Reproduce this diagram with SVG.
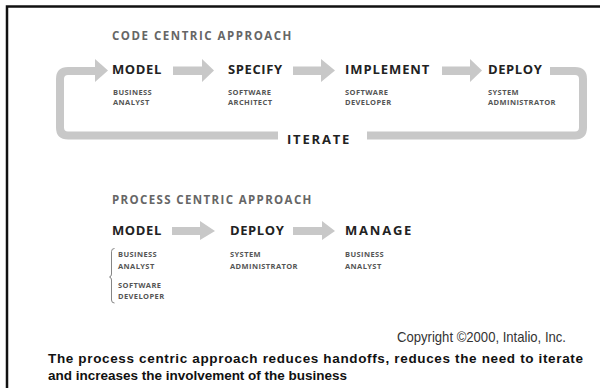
<svg xmlns="http://www.w3.org/2000/svg" width="600" height="388" viewBox="0 0 600 388">
<defs>
<style>
.frame{fill:none;stroke:#111;stroke-width:2.5}
.arrow{fill:#c8c8c8}
.loop{fill:none;stroke:#c8c8c8;stroke-width:8}
.sec{font-family:"Open Sans","DejaVu Sans",sans-serif;font-weight:bold;font-size:11.5px;fill:#666;letter-spacing:0.6px}
.step{font-family:"Open Sans","DejaVu Sans",sans-serif;font-weight:bold;font-size:13px;fill:#222;letter-spacing:0.6px}
.role{font-family:"Open Sans","DejaVu Sans",sans-serif;font-weight:bold;font-size:7.5px;fill:#555;letter-spacing:0.4px}
.copy{font-family:"Liberation Sans",Arial,sans-serif;font-size:15px;fill:#333}
.cap{font-family:"Liberation Sans",Arial,sans-serif;font-weight:bold;font-size:13.5px;fill:#111}
.brace{fill:none;stroke:#777;stroke-width:0.9}
</style>
</defs>
<rect width="600" height="388" fill="#fff"/>
<path class="frame" d="M7 388 V6.5 H600"/>

<text class="sec" x="112" y="40" textLength="180">CODE CENTRIC APPROACH</text>

<g id="connectors">
  <path class="loop" d="M550 71 H575 Q583 71 583 79 V127.5 Q583 135.5 575 135.5 H367"/>
  <path class="loop" d="M278 135.5 H68 Q60 135.5 60 127.5 V79 Q60 71 68 71 H96"/>
  <polygon class="arrow" points="95,59 108,70.5 95,82"/>
  <polygon class="arrow" points="173,66.5 202,66.5 202,59 214,70.5 202,82 202,75 173,75"/>
  <polygon class="arrow" points="293,66.5 321,66.5 321,59 335,70.5 321,82 321,75 293,75"/>
  <polygon class="arrow" points="442,66.5 470,66.5 470,59 482,70.5 470,82 470,75 442,75"/>
  <polygon class="arrow" points="172,227 200,227 200,221 215,231 200,240 200,235 172,235"/>
  <polygon class="arrow" points="293,227 322,227 322,221 335,231 322,240 322,235 293,235"/>
  <path class="brace" d="M114.5 248.5 Q111.5 248.5 111.5 251.5 V274 Q111.5 276.5 109.5 277 Q111.5 277.5 111.5 280 V300 Q111.5 303 114.5 303"/>
</g>

<g id="iterate"><text class="step" x="287" y="143.5" textLength="63">ITERATE</text></g>

<g id="c-model"><text class="step" x="112" y="74">MODEL</text>
<text class="role" x="113" y="94.5">BUSINESS</text><text class="role" x="113" y="105">ANALYST</text></g>
<g id="c-specify"><text class="step" x="228" y="74">SPECIFY</text>
<text class="role" x="228" y="94.5">SOFTWARE</text><text class="role" x="228" y="105">ARCHITECT</text></g>
<g id="c-implement"><text class="step" x="345" y="74" textLength="85">IMPLEMENT</text>
<text class="role" x="345" y="94.5">SOFTWARE</text><text class="role" x="345" y="105">DEVELOPER</text></g>
<g id="c-deploy"><text class="step" x="488" y="74">DEPLOY</text>
<text class="role" x="488" y="94.5">SYSTEM</text><text class="role" x="488" y="105">ADMINISTRATOR</text></g>

<text class="sec" x="112" y="204" textLength="200">PROCESS CENTRIC APPROACH</text>

<g id="p-model"><text class="step" x="112" y="235">MODEL</text>
<text class="role" x="118" y="256.5">BUSINESS</text><text class="role" x="118" y="269">ANALYST</text>
<text class="role" x="118" y="287.5">SOFTWARE</text><text class="role" x="118" y="299">DEVELOPER</text></g>
<g id="p-deploy"><text class="step" x="230" y="235">DEPLOY</text>
<text class="role" x="230" y="256.5">SYSTEM</text><text class="role" x="230" y="269">ADMINISTRATOR</text></g>
<g id="p-manage"><text class="step" x="345" y="235" textLength="67">MANAGE</text>
<text class="role" x="345" y="256.5">BUSINESS</text><text class="role" x="345" y="269">ANALYST</text></g>

<text class="copy" x="397" y="342" textLength="169" lengthAdjust="spacingAndGlyphs">Copyright ©2000, Intalio, Inc.</text>
<text class="cap" x="48" y="362.5" textLength="535">The process centric approach reduces handoffs, reduces the need to iterate</text>
<text class="cap" x="48" y="379.5" textLength="299">and increases the involvement of the business</text>
</svg>
